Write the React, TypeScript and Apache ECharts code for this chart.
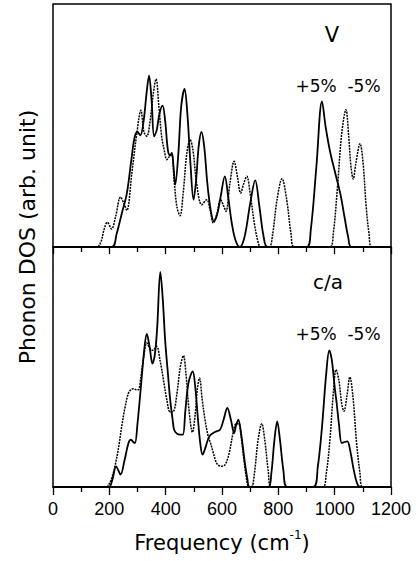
import React, { useEffect, useRef } from "react";
import * as echarts from "echarts";

// Frequency (cm^-1) ticks
const xTicks = [0, 200, 400, 600, 800, 1000, 1200];

// Top panel (V): [frequency, DOS]
const vPlus: number[][] = [
  [0, 0], [208, 0], [226, 40], [244, 100], [262, 160], [278, 260], [290, 330], [300, 345], [310, 335],
  [322, 380], [332, 460], [341, 514], [350, 440], [359, 332], [368, 350], [378, 400], [389, 424],
  [398, 380], [408, 290], [416, 275], [422, 282], [428, 240], [434, 187], [445, 280], [455, 420],
  [467, 474], [477, 400], [488, 250], [499, 142], [508, 200], [517, 300], [527, 345], [537, 300],
  [548, 190], [560, 110], [571, 77], [582, 95], [595, 150], [610, 212], [622, 150], [635, 70],
  [648, 20], [663, 0], [680, 30], [700, 130], [718, 200], [733, 120], [748, 30], [762, 0],
  [900, 0], [915, 50], [935, 240], [955, 437], [968, 360], [984, 285], [1002, 222], [1020, 160],
  [1035, 90], [1048, 30], [1060, 0], [1200, 0]
];
const vMinus: number[][] = [
  [0, 0], [155, 0], [170, 15], [182, 55], [193, 74], [208, 54], [222, 90], [240, 150], [252, 130],
  [262, 110], [280, 222], [297, 337], [312, 410], [323, 345], [333, 332], [345, 380], [356, 460],
  [366, 504], [376, 420], [386, 330], [395, 290], [404, 262], [412, 270], [421, 277], [430, 200],
  [440, 120], [451, 94], [462, 160], [475, 280], [487, 322], [497, 290], [510, 190], [528, 127],
  [546, 142], [558, 110], [569, 72], [582, 100], [595, 142], [605, 125], [614, 107], [628, 190],
  [643, 257], [655, 210], [666, 162], [677, 190], [688, 212], [700, 160], [715, 70], [728, 15],
  [737, 0], [767, 0], [780, 40], [795, 140], [813, 205], [830, 140], [845, 40], [857, 0],
  [982, 0], [995, 40], [1010, 180], [1025, 340], [1040, 412], [1050, 330], [1058, 240], [1066, 204],
  [1075, 250], [1090, 310], [1100, 260], [1112, 120], [1122, 40], [1132, 0], [1200, 0]
];

// Bottom panel (c/a): [frequency, DOS]
const caPlus: number[][] = [
  [0, 0], [197, 0], [210, 20], [224, 62], [232, 50], [240, 37], [254, 80], [268, 132], [277, 142],
  [285, 135], [291, 132], [300, 190], [312, 300], [325, 420], [333, 459], [343, 420], [353, 370],
  [362, 400], [370, 480], [381, 645], [390, 560], [398, 442], [408, 340], [416, 262], [425, 200],
  [430, 172], [440, 160], [451, 157], [461, 157], [470, 230], [481, 312], [496, 347], [505, 300],
  [515, 200], [523, 130], [531, 97], [540, 115], [555, 152], [575, 165], [593, 172], [605, 200],
  [619, 237], [632, 200], [643, 162], [650, 185], [658, 202], [668, 160], [680, 80], [690, 25],
  [699, 0], [764, 0], [775, 40], [786, 140], [796, 197], [806, 140], [818, 50], [832, 0],
  [924, 0], [940, 60], [955, 180], [970, 340], [981, 410], [990, 380], [1000, 300], [1007, 252],
  [1015, 190], [1025, 132], [1035, 135], [1045, 137], [1055, 110], [1068, 50], [1080, 10],
  [1090, 0], [1200, 0]
];
const caMinus: number[][] = [
  [0, 0], [190, 0], [200, 10], [210, 30], [222, 70], [235, 130], [244, 182], [256, 240], [268, 282],
  [278, 293], [285, 295], [295, 292], [303, 292], [312, 330], [322, 390], [333, 432], [345, 415],
  [355, 410], [368, 422], [380, 380], [392, 322], [404, 262], [416, 225], [428, 227], [440, 280],
  [452, 360], [463, 394], [472, 340], [483, 230], [495, 164], [505, 220], [512, 290], [520, 327],
  [530, 260], [540, 200], [551, 152], [560, 130], [570, 100], [582, 70], [597, 62], [611, 67],
  [625, 100], [640, 165], [650, 190], [659, 190], [668, 150], [678, 80], [688, 20], [695, 0],
  [705, 0], [715, 40], [728, 140], [741, 190], [752, 140], [764, 50], [776, 0],
  [957, 0], [970, 40], [983, 140], [995, 280], [1005, 352], [1015, 320], [1025, 250], [1033, 227],
  [1043, 270], [1054, 330], [1065, 270], [1078, 130], [1090, 40], [1099, 0], [1200, 0]
];

const TITLE_FONT = "DejaVu Sans";
const TICK_FONT = "Liberation Sans";

export default function App() {
  const ref = useRef<HTMLDivElement>(null);
  useEffect(() => {
    if (!ref.current) return;
    const chart = echarts.init(ref.current, undefined, { renderer: "svg" });
    const xBase = {
      type: "value" as const,
      min: xTicks[0],
      max: xTicks[xTicks.length - 1],
      interval: 200,
      splitLine: { show: false },
      axisLine: { show: true, lineStyle: { color: "#000", width: 1.5 } },
      minorTick: { show: true, splitNumber: 2, length: 5, lineStyle: { color: "#000", width: 1.3 } },
    };
    const solid = { color: "#000", width: 1.8, type: "solid" as const };
    const dotted = { color: "#000", width: 1.5, type: [2, 1] as any };
    chart.setOption({
      animation: false,
      backgroundColor: "#fff",
      grid: [
        { left: 53, top: 4, width: 338, height: 243, show: true, borderColor: "#000", borderWidth: 1.5 },
        { left: 53, top: 247, width: 338, height: 240, show: true, borderColor: "#000", borderWidth: 1.5 },
      ],
      xAxis: [
        {
          ...xBase,
          gridIndex: 0,
          axisTick: { show: true, length: 7, lineStyle: { color: "#000", width: 1.3 } },
          axisLabel: { show: false },
        },
        {
          ...xBase,
          gridIndex: 1,
          axisTick: { show: true, length: 8, lineStyle: { color: "#000", width: 1.3 } },
          axisLabel: {
            show: true, color: "#000", fontFamily: TICK_FONT, fontSize: 18, margin: 13,
            formatter: (v: number) => String(v),
          },
          name: "Frequency (cm{sup|-1})",
          nameLocation: "middle",
          nameGap: 42,
          nameTextStyle: {
            color: "#000",
            fontFamily: TITLE_FONT,
            fontSize: 21,
            lineHeight: 28,
            rich: {
              sup: { fontFamily: TITLE_FONT, fontSize: 12, color: "#000", verticalAlign: "top", lineHeight: 12 },
            },
          },
        },
      ],
      yAxis: [
        { type: "value", gridIndex: 0, min: 0, max: 729, show: false },
        { type: "value", gridIndex: 1, min: 0, max: 720, show: false },
      ],
      series: [
        { name: "V +5%", type: "line", xAxisIndex: 0, yAxisIndex: 0, data: vPlus, showSymbol: false, smooth: 0.35, lineStyle: solid },
        { name: "V -5%", type: "line", xAxisIndex: 0, yAxisIndex: 0, data: vMinus, showSymbol: false, smooth: 0.35, lineStyle: dotted },
        { name: "c/a +5%", type: "line", xAxisIndex: 1, yAxisIndex: 1, data: caPlus, showSymbol: false, smooth: 0.35, lineStyle: solid },
        { name: "c/a -5%", type: "line", xAxisIndex: 1, yAxisIndex: 1, data: caMinus, showSymbol: false, smooth: 0.35, lineStyle: dotted },
      ],
      graphic: [
        {
          type: "text", x: 27, y: 237, rotation: Math.PI / 2,
          style: { text: "Phonon DOS (arb. unit)", fontFamily: TITLE_FONT, fontSize: 22, fill: "#000", align: "center", verticalAlign: "middle" },
        },
        {
          type: "text", x: 332, y: 35,
          style: { text: "V", fontFamily: TITLE_FONT, fontSize: 21, fill: "#000", align: "center", verticalAlign: "middle" },
        },
        {
          type: "text", x: 338, y: 86,
          style: { text: "+5%  -5%", fontFamily: TITLE_FONT, fontSize: 17, fill: "#000", align: "center", verticalAlign: "middle" },
        },
        {
          type: "text", x: 328, y: 282,
          style: { text: "c/a", fontFamily: TITLE_FONT, fontSize: 20, fill: "#000", align: "center", verticalAlign: "middle" },
        },
        {
          type: "text", x: 338, y: 334,
          style: { text: "+5%  -5%", fontFamily: TITLE_FONT, fontSize: 17, fill: "#000", align: "center", verticalAlign: "middle" },
        },
      ],
    });
    return () => chart.dispose();
  }, []);
  return <div ref={ref} style={{ position: "fixed", left: 0, top: 0, width: 419, height: 561 }} />;
}
